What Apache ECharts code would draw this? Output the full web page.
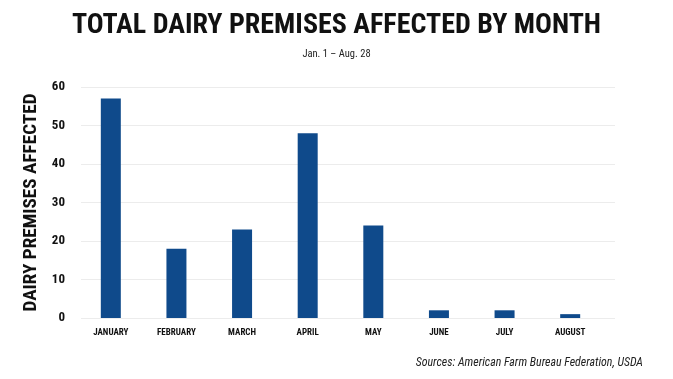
<!DOCTYPE html>
<html><head><meta charset="utf-8">
<script src="https://cdn.jsdelivr.net/npm/echarts@6/dist/echarts.min.js"></script>
<style>html,body{margin:0;padding:0;background:#fff}#c{width:673px;height:379px}</style>
</head><body><div id="c"></div>
<script>
const months = ['JANUARY','FEBRUARY','MARCH','APRIL','MAY','JUNE','JULY','AUGUST'];
const premises = [57, 18, 23, 48, 24, 2, 2, 1];
const yTicks = [0, 10, 20, 30, 40, 50, 60];
const titleText = 'TOTAL DAIRY PREMISES AFFECTED BY MONTH';
const subtitleText = 'Jan. 1 – Aug. 28';
const yName = 'DAIRY PREMISES AFFECTED';
const sourceText = 'Sources: American Farm Bureau Federation, USDA';

const FONT = '"Roboto Condensed", "DejaVu Sans Condensed", sans-serif';
const ctx = document.createElement('canvas').getContext('2d');
function fit(text, weight, style, target) {
  ctx.font = style + ' ' + weight + ' 100px "Roboto Condensed"';
  return Math.round(100 * target / ctx.measureText(text).width * 10) / 10;
}
const titleSize = fit(titleText, 'bold', 'normal', 530);
const subSize = 10.5;
const nameSize = fit(yName, 'bold', 'normal', 218);
const srcSize = fit(sourceText, 'normal', 'italic', 227);

const chart = echarts.init(document.getElementById('c'), null, {renderer: 'canvas'});
chart.setOption({
  animation: false,
  backgroundColor: '#fff',
  title: [
    {text: titleText, left: 'center', top: 7,
     textStyle: {fontFamily: FONT, fontWeight: 'bold', fontSize: titleSize, color: '#111'}},
    {text: subtitleText, left: 'center', top: 44,
     textStyle: {fontFamily: FONT, fontWeight: 'normal', fontSize: subSize, color: '#222'}},
    {text: sourceText, right: 25, top: 352,
     textStyle: {fontFamily: FONT, fontStyle: 'italic', fontWeight: 'normal', fontSize: srcSize, color: '#222'}}
  ],
  grid: [
    {left: 81, right: 58, top: 87, bottom: 61, outerBoundsMode: 'none'},
    {left: 78, right: 70, top: 87, bottom: 61, outerBoundsMode: 'none'}
  ],
  xAxis: [
    {gridIndex: 0, type: 'category', data: months, show: false},
    {gridIndex: 1, type: 'category', data: months,
     axisLine: {show: false}, axisTick: {show: false},
     axisLabel: {interval: 0, margin: 10, fontFamily: FONT, fontWeight: 'bold', fontSize: 9, color: '#111'}}
  ],
  yAxis: [
    {gridIndex: 0, type: 'value', min: yTicks[0], max: yTicks[yTicks.length-1], interval: 10,
     name: yName, nameLocation: 'middle', nameGap: 40, nameRotate: 90,
     nameTextStyle: {fontFamily: FONT, fontWeight: 'bold', fontSize: nameSize, color: '#111'},
     axisLine: {show: false}, axisTick: {show: false},
     axisLabel: {margin: 16, fontFamily: FONT, fontWeight: 'bold', fontSize: 13, color: '#111'},
     splitLine: {lineStyle: {color: '#ececec', width: 1}}},
    {gridIndex: 1, type: 'value', min: yTicks[0], max: yTicks[yTicks.length-1], interval: 10, show: false,
     splitLine: {show: false}}
  ],
  series: [{
    type: 'bar', xAxisIndex: 1, yAxisIndex: 1, data: premises,
    barWidth: 20, itemStyle: {color: '#0f4a8b'}
  }]
});
</script></body></html>
